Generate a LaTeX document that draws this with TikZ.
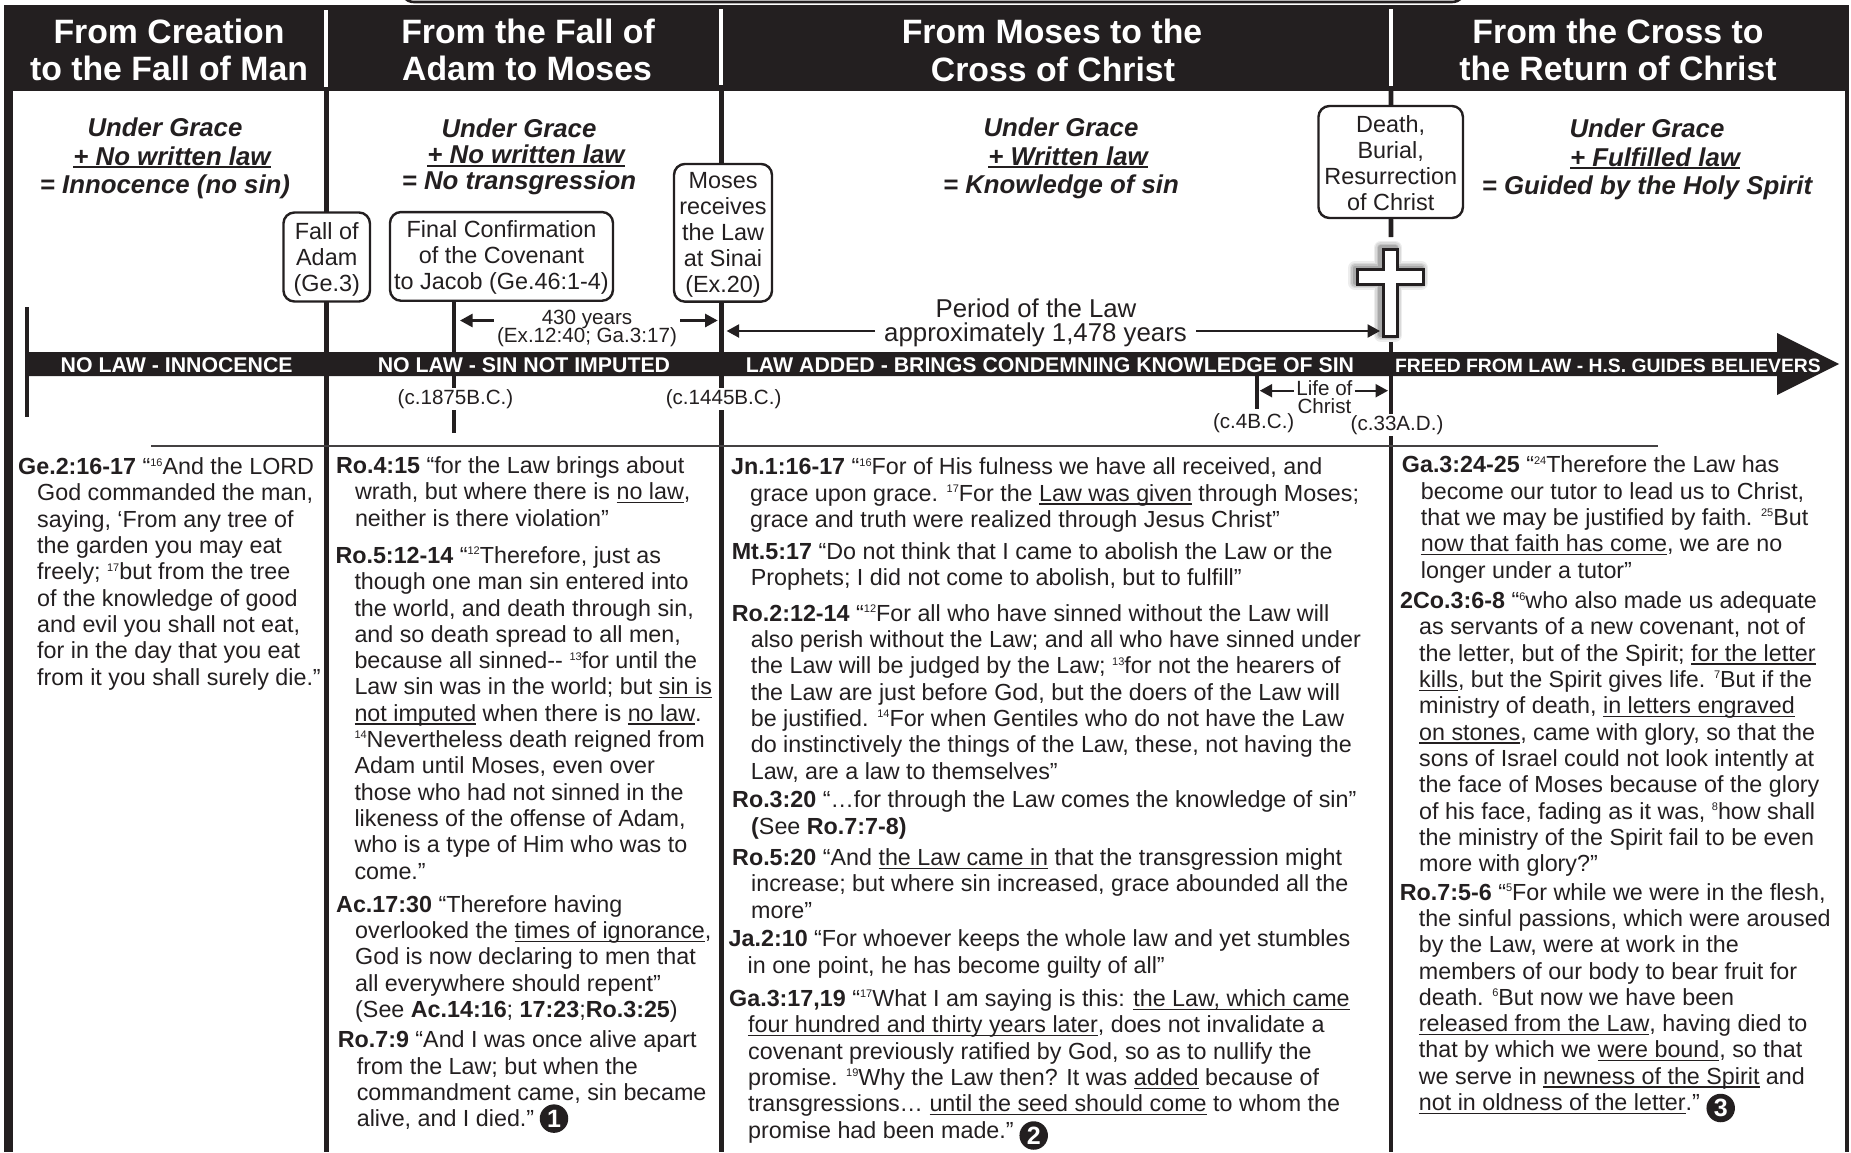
\documentclass[tikz,border=0pt]{standalone}
\usepackage{fontspec}
\setmainfont{Liberation Sans}
\usetikzlibrary{arrows.meta,backgrounds}
\definecolor{ink}{HTML}{231F20}
\newsavebox{\lineword}
\newcommand{\uline}[1]{\sbox{\lineword}{#1}\usebox{\lineword}\llap{\rule[-3.4pt]{\wd\lineword}{1.3pt}}}
\newcommand{\graceline}[1]{\sbox{\lineword}{#1}\usebox{\lineword}\llap{\rule[-3.4pt]{\wd\lineword}{2pt}}}
\newcommand{\versetag}[1]{\hspace*{-19pt}\textbf{#1}}
\newcommand{\vnum}[1]{\raisebox{8.6pt}{\fontsize{11}{11}\selectfont #1}}
\newcommand{\evtop}[1]{\rule{0pt}{#1}}
\tikzset{
  x=1pt, y=-1pt,
  every node/.style={
    text=ink
  },
  era title/.style={
    anchor=base,
    inner sep=0pt,
    text=white,
    font=\fontsize{33.8}{38}\selectfont\bfseries
  },
  grace/.style={
    anchor=base,
    inner sep=0pt,
    font=\fontsize{25.8}{29}\selectfont\bfseries\itshape
  },
  event/.style={
    shape=rectangle,
    rounded corners=11pt,
    draw=ink,
    line width=2.4pt,
    fill=white,
    inner sep=0pt,
    align=center,
    font=\fontsize{23.4}{26}\selectfont
  },
  band text/.style={
    anchor=base,
    inner sep=0pt,
    text=white,
    font=\fontsize{21.3}{22}\selectfont\bfseries
  },
  date/.style={
    inner sep=1pt,
    fill=white,
    font=\fontsize{20.6}{18}\selectfont
  },
  small note/.style={
    inner sep=2pt,
    font=\fontsize{20.6}{18}\selectfont
  },
  law note/.style={
    inner sep=9pt,
    font=\fontsize{25.8}{23}\selectfont
  },
  verse/.style={
    anchor=base west,
    inner sep=0pt,
    align=left,
    font=\fontsize{23.3}{26.3}\selectfont
  },
  era rule/.style={
    draw=ink,
    line width=4.6pt
  },
  era gap/.style={
    draw=white,
    line width=3.4pt
  },
  span arrow/.style={
    draw=ink,
    line width=2.4pt,
    -{Triangle[length=12.5pt,width=13pt]}
  },
  mark num/.style={
    shape=circle,
    fill=ink,
    inner sep=0pt,
    minimum size=28.5pt,
    text=white,
    font=\fontsize{25}{25}\selectfont\bfseries
  }
}
\begin{document}
\begin{tikzpicture}
  \useasboundingbox (0,0) rectangle (1851,1152);
  % top of the page, frame and header
  \begin{scope}
    \clip (0,0) rectangle (1851,1152);
    \draw [ink, line width=2.6pt, rounded corners=14pt] (400,-30) rectangle (1466,2);
  \end{scope}
  \fill [ink] (3.5,5) rectangle (13,1152);
  \fill [ink] (1845,5) rectangle (1849,1152);
  \node [fill=ink, minimum width=1842.5pt, minimum height=86pt, inner sep=0pt] (headbar) at (924.75,48) {};
  \draw [era gap] (326,10) -- (326,87);
  \draw [era gap] (721,9) -- (721,85);
  \draw [era gap] (1391,9) -- (1391,86);

  \node [era title] (eraA) at (169,43) {From Creation};
  \node [era title] (eraAb) at (169,80) {to the Fall of Man};
  \node [era title] (eraB) at (528,43) {From the Fall of};
  \node [era title] (eraBb) at (527,80) {Adam to Moses};
  \node [era title] (eraC) at (1052,43.5) {From Moses to the};
  \node [era title] (eraCb) at (1053,81.5) {Cross of Christ};
  \node [era title] (eraD) at (1618,43) {From the Cross to};
  \node [era title] (eraDb) at (1618,80.5) {the Return of Christ};

  % what each period is under
  \node [grace] (graceA) at (165,136) {Under Grace};
  \node [grace] (graceAb) at (172,165) {\graceline{+ No written law}};
  \node [grace] (graceAc) at (165,193) {= Innocence (no sin)};
  \node [grace] (graceB) at (519,137) {Under Grace};
  \node [grace] (graceBb) at (526,163.5) {\graceline{+ No written law}};
  \node [grace] (graceBc) at (519,189.5) {= No transgression};
  \node [grace] (graceC) at (1061,136) {Under Grace};
  \node [grace] (graceCb) at (1068,165) {\graceline{+ Written law}};
  \node [grace] (graceCc) at (1061,193) {= Knowledge of sin};
  \node [grace] (graceD) at (1647,137) {Under Grace};
  \node [grace] (graceDb) at (1655,166) {\graceline{+ Fulfilled law}};
  \node [grace] (graceDc) at (1647,194) {= Guided by the Holy Spirit};

  % events on the rules
  \node [event, minimum width=86.5pt, minimum height=89pt] (fall) at (326.7,257) {\evtop{22pt}Fall of\\Adam\\(Ge.3)};
  \node [event, minimum width=223pt, minimum height=88.7pt] (jacob) at (501.5,256.4) {\evtop{19.5pt}Final Confirmation\\of the Covenant\\to Jacob (Ge.46:1-4)};
  \node [event, minimum width=98pt, minimum height=137.7pt] (moses) at (723,232.8) {\evtop{19.5pt}Moses\\receives\\the Law\\at Sinai\\(Ex.20)};
  \node [event, minimum width=144.5pt, minimum height=112pt] (death) at (1390.7,162) {\evtop{19.5pt}Death,\\Burial,\\Resurrection\\of Christ};

  % the time line
  \fill [ink] (27,352) -- (1777,352) -- (1777,333) -- (1839,364) -- (1777,395) -- (1777,376) -- (27,376) -- cycle;
  \node [band text] (bandA) at (176.7,372) {NO LAW - INNOCENCE};
  \node [band text] (bandB) at (524,372) {NO LAW - SIN NOT IMPUTED};
  \node [band text] (bandC) at (1050,372) {LAW ADDED - BRINGS CONDEMNING KNOWLEDGE OF SIN};
  \node [band text, font=\fontsize{19.35}{22}\selectfont\bfseries] (bandD) at (1608,372) {FREED FROM LAW - H.S. GUIDES BELIEVERS};

  \node [date] (dateJacob) at (455.5,399) {(c.1875B.C.)};
  \node [date] (dateMoses) at (723.6,399) {(c.1445B.C.)};
  \node [date] (dateBirth) at (1253.7,423) {(c.4B.C.)};
  \node [date] (dateCross) at (1397,425) {(c.33A.D.)};

  % rules and ticks, behind all of this
  \coordinate (ruleAtop) at (326.7,91);
  \coordinate (ruleAfoot) at (326.7,1152);
  \coordinate (ruleBtop) at (721.5,91);
  \coordinate (ruleBfoot) at (721.5,1152);
  \coordinate (ruleCtop) at (1391,91);
  \coordinate (ruleCfoot) at (1391,1152);
  \coordinate (crossTop) at (1391,237);
  \coordinate (crossFoot) at (1391,342);
  \coordinate (jacobFoot) at (454,433);
  \coordinate (birthTop) at (1256.7,376);
  \coordinate (birthFoot) at (1256.7,409);
  \begin{scope}[on background layer]
    \draw [era rule] (ruleAtop) -- (ruleAfoot);
    \draw [era rule] (ruleBtop) -- (ruleBfoot);
    \draw [era rule] (ruleCtop) -- (death);
    \draw [era rule] (death) -- (crossTop);
    \draw [era rule] (crossFoot) -- (ruleCfoot);
    \draw [era rule] (jacob.south -| jacobFoot) -- (jacobFoot);
    \draw [era rule, line width=4pt] (birthTop) -- (birthFoot);
    \draw [ink, line width=3.6pt] (27,307) -- (27,417);
    \draw [ink!85, line width=1.4pt] (151,446) -- (1658,446);
  \end{scope}

  % the cross
  \foreach \w/\o in {14/0.07,11/0.08,8/0.10,5/0.14} {
    \draw [black, opacity=\o, line width=\w pt, line join=round, xshift=-2.5pt, yshift=1.5pt]
      (1383.2,249.2) -- (1397.8,249.2) -- (1397.8,269.5) -- (1423.8,269.5) -- (1423.8,284.2) -- (1397.8,284.2) -- (1397.8,336.2)
      -- (1383.2,336.2) -- (1383.2,284.2) -- (1357.5,284.2) -- (1357.5,269.5) -- (1383.2,269.5) -- cycle;
  }
  \draw [ink, fill=white, line width=3pt]
    (1383.2,249.2) -- (1397.8,249.2) -- (1397.8,269.5) -- (1423.8,269.5) -- (1423.8,284.2) -- (1397.8,284.2) -- (1397.8,336.2)
    -- (1383.2,336.2) -- (1383.2,284.2) -- (1357.5,284.2) -- (1357.5,269.5) -- (1383.2,269.5) -- cycle;

  % spans
  \node [small note] (yearsA) at (587,319.5) {430 years};
  \node [small note] (yearsB) at (587,337) {(Ex.12:40; Ga.3:17)};
  \coordinate (yearsLtail) at (493.5,320.5);
  \coordinate (yearsLtip) at (460,320.5);
  \coordinate (yearsRtail) at (680,320.5);
  \coordinate (yearsRtip) at (717.7,320.5);
  \draw [span arrow] (yearsLtail) -- (yearsLtip);
  \draw [span arrow] (yearsRtail) -- (yearsRtip);

  \node [law note] (lawTitle) at (1036,308) {Period of the Law};
  \node [law note] (lawYears) at (1035.5,334.5) {approximately 1,478 years};
  \coordinate (lawLeft) at (726.6,331);
  \coordinate (lawRight) at (1380,331);
  \draw [span arrow] (lawYears.west |- lawLeft) -- (lawLeft);
  \draw [span arrow] (lawYears.east |- lawRight) -- (lawRight);

  \node [small note] (lifeA) at (1324.4,388) {Life of};
  \node [small note] (lifeB) at (1324.4,406) {Christ};
  \coordinate (lifeLeft) at (1259.7,390.7);
  \coordinate (lifeRight) at (1388,390.7);
  \draw [span arrow] (lifeA.west |- lifeLeft) -- (lifeLeft);
  \draw [span arrow] (lifeA.east |- lifeRight) -- (lifeRight);

  % first column
  \node [verse] (geTwo) at (37,685) {\versetag{Ge.2:16-17} “\vnum{16}And the LORD\\
    God commanded the man,\\
    saying, ‘From any tree of\\
    the garden you may eat\\
    freely; \vnum{17}but from the tree\\
    of the knowledge of good\\
    and evil you shall not eat,\\
    for in the day that you eat\\
    from it you shall surely die.”};

  % second column
  \node [verse] (roFour) at (354.8,526) {\versetag{Ro.4:15} “for the Law brings about\\
    wrath, but where there is \uline{no law},\\
    neither is there violation”};
  \node [verse] (roFive) at (354.3,879) {\versetag{Ro.5:12-14} “\vnum{12}Therefore, just as\\
    though one man sin entered into\\
    the world, and death through sin,\\
    and so death spread to all men,\\
    because all sinned-{}- \vnum{13}for until the\\
    Law sin was in the world; but \uline{sin is}\\
    \uline{not imputed} when there is \uline{no law}.\\
    \vnum{14}Nevertheless death reigned from\\
    Adam until Moses, even over\\
    those who had not sinned in the\\
    likeness of the offense of Adam,\\
    who is a type of Him who was to\\
    come.”};
  \node [verse] (acSeventeen) at (355,1017.5) {\versetag{Ac.17:30} “Therefore having\\
    overlooked the \uline{times of ignorance},\\
    God is now declaring to men that\\
    all everywhere should repent”\\
    (See \textbf{Ac.14:16}; \textbf{17:23};\textbf{Ro.3:25})};
  \node [verse] (roSevenA) at (356.6,1126.6) {\versetag{Ro.7:9} “And I was once alive apart\\
    from the Law; but when the\\
    commandment came, sin became\\
    alive, and I died.”};
  \node [mark num] (markOne) at (554,1118.6) {1};

  % third column
  \node [verse] (jnOne) at (750,527.5) {\versetag{Jn.1:16-17} “\vnum{16}For of His fulness we have all received, and\\
    grace upon grace. \vnum{17}For the \uline{Law was given} through Moses;\\
    grace and truth were realized through Jesus Christ”};
  \node [verse] (mtFive) at (750.6,585.7) {\versetag{Mt.5:17} “Do not think that I came to abolish the Law or the\\
    Prophets; I did not come to abolish, but to fulfill”};
  \node [verse] (roTwo) at (750.6,779) {\versetag{Ro.2:12-14} “\vnum{12}For all who have sinned without the Law will\\
    also perish without the Law; and all who have sinned under\\
    the Law will be judged by the Law; \vnum{13}for not the hearers of\\
    the Law are just before God, but the doers of the Law will\\
    be justified. \vnum{14}For when Gentiles who do not have the Law\\
    do instinctively the things of the Law, these, not having the\\
    Law, are a law to themselves”};
  \node [verse] (roThree) at (751,834) {\versetag{Ro.3:20} “…for through the Law comes the knowledge of sin”\\
    \textbf{(}See \textbf{Ro.7:7-8)}};
  \node [verse] (roFiveB) at (751,918) {\versetag{Ro.5:20} “And \uline{the Law came in} that the transgression might\\
    increase; but where sin increased, grace abounded all the\\
    more”};
  \node [verse] (jaTwo) at (747.5,973) {\versetag{Ja.2:10} “For whoever keeps the whole law and yet stumbles\\
    in one point, he has become guilty of all”};
  \node [verse] (gaThree) at (748,1138) {\versetag{Ga.3:17,19} “\vnum{17}What I am saying is this: \uline{the Law, which came}\\
    \uline{four hundred and thirty years later}, does not invalidate a\\
    covenant previously ratified by God, so as to nullify the\\
    promise. \vnum{19}Why the Law then? It was \uline{added} because of\\
    transgressions… \uline{until the seed should come} to whom the\\
    promise had been made.”};
  \node [mark num] (markTwo) at (1033.7,1135.5) {2};

  % fourth column
  \node [verse] (gaThreeB) at (1420.7,578) {\versetag{Ga.3:24-25} “\vnum{24}Therefore the Law has\\
    become our tutor to lead us to Christ,\\
    that we may be justified by faith. \vnum{25}But\\
    \uline{now that faith has come}, we are no\\
    longer under a tutor”};
  \node [verse] (coThree) at (1419,871.6) {\versetag{2Co.3:6-8} “\vnum{6}who also made us adequate\\
    as servants of a new covenant, not of\\
    the letter, but of the Spirit; \uline{for the letter}\\
    \uline{kills}, but the Spirit gives life. \vnum{7}But if the\\
    ministry of death, \uline{in letters engraved}\\
    \uline{on stones}, came with glory, so that the\\
    sons of Israel could not look intently at\\
    the face of Moses because of the glory\\
    of his face, fading as it was, \vnum{8}how shall\\
    the ministry of the Spirit fail to be even\\
    more with glory?”};
  \node [verse] (roSevenB) at (1418.7,1110.5) {\versetag{Ro.7:5-6} “\vnum{5}For while we were in the flesh,\\
    the sinful passions, which were aroused\\
    by the Law, were at work in the\\
    members of our body to bear fruit for\\
    death. \vnum{6}But now we have been\\
    \uline{released from the Law}, having died to\\
    that by which we \uline{were bound}, so that\\
    we serve in \uline{newness of the Spirit} and\\
    \uline{not in oldness of the letter}.”};
  \node [mark num] (markThree) at (1720.7,1108) {3};
\end{tikzpicture}
\end{document}
